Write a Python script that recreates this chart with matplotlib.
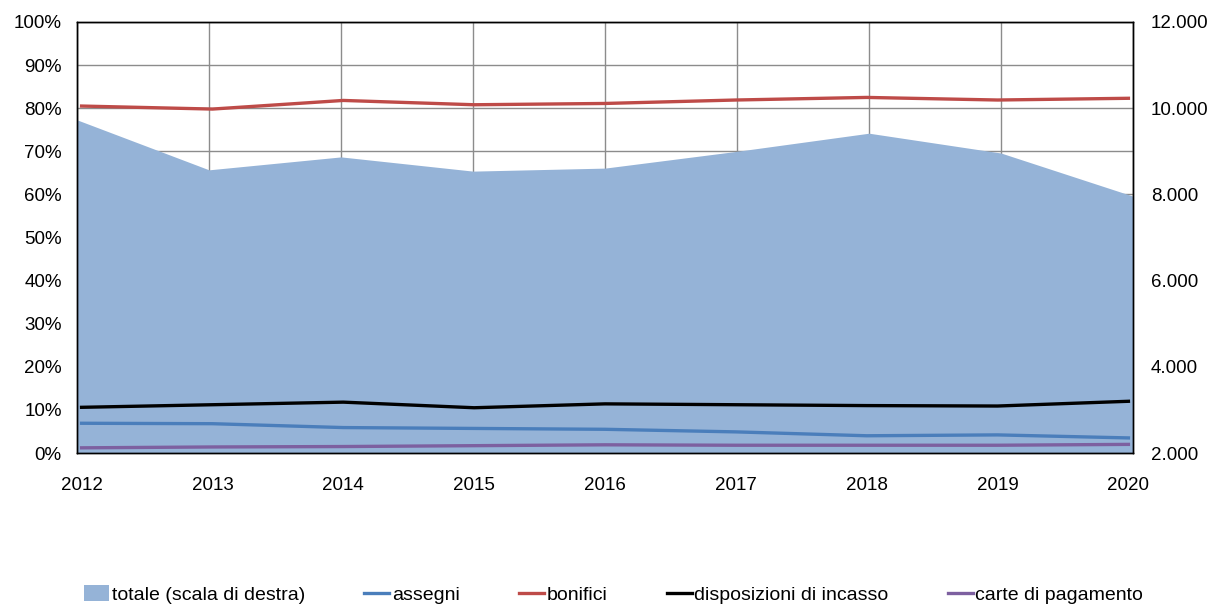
import matplotlib
matplotlib.use("Agg")
import matplotlib.pyplot as plt
from matplotlib.ticker import MultipleLocator, FuncFormatter, PercentFormatter
from matplotlib.patches import Patch
from matplotlib.lines import Line2D

plt.rcParams['font.family'] = ['Liberation Sans', 'DejaVu Sans']

anni = [2012, 2013, 2014, 2015, 2016, 2017, 2018, 2019, 2020]
# quote percentuali (scala di sinistra)
assegni = [6.9, 6.8, 5.9, 5.7, 5.5, 4.9, 4.0, 4.2, 3.5]
bonifici = [80.5, 79.8, 81.8, 80.8, 81.1, 81.9, 82.5, 81.9, 82.3]
disposizioni = [10.6, 11.2, 11.8, 10.5, 11.4, 11.2, 11.0, 10.9, 12.0]
carte = [1.2, 1.4, 1.5, 1.7, 1.9, 1.8, 1.8, 1.8, 2.0]
# totale (scala di destra)
totale = [9730, 8570, 8870, 8540, 8610, 9000, 9420, 8960, 7960]

c_area = '#95B3D7'
c_ass = '#4A7EBB'
c_bon = '#BE4B48'
c_disp = '#000000'
c_carte = '#7D60A0'
c_grid = '#8c8c8c'

fig = plt.figure(figsize=(12.08, 6.05), dpi=100)
rect = [77 / 1208, 1 - 453 / 605, 1056 / 1208, 431 / 605]

# asse dell'area (scala di destra), con la griglia sotto l'area
ax = fig.add_axes(rect)
ax.fill_between(anni, 2000, totale, color=c_area, lw=0, zorder=2)
ax.set_xlim(2012, 2020)
ax.set_ylim(2000, 12000)
ax.set_xticks(anni)
ax.tick_params(axis='x', length=0, labelbottom=False)
ax.yaxis.tick_right()
ax.yaxis.set_major_locator(MultipleLocator(2000))
ax.yaxis.set_minor_locator(MultipleLocator(1000))
ax.yaxis.set_major_formatter(FuncFormatter(lambda v, p: f"{int(v):,}".replace(",", ".")))
ax.tick_params(axis='y', which='both', length=0, labelsize=13.5, pad=13)
ax.set_axisbelow(True)
ax.grid(which='both', axis='y', color=c_grid, lw=1)
ax.grid(which='major', axis='x', color=c_grid, lw=1)

# asse delle linee (scala di sinistra)
ax2 = fig.add_axes(rect)
ax2.patch.set_visible(False)
lw = 2.4
ax2.plot(anni, assegni, color=c_ass, lw=lw)
ax2.plot(anni, bonifici, color=c_bon, lw=lw)
ax2.plot(anni, disposizioni, color=c_disp, lw=lw)
ax2.plot(anni, carte, color=c_carte, lw=lw)

d = 0.035
ax2.set_xlim(2012 - d, 2020 + d)
ax2.set_ylim(0, 100)
ax2.set_xticks(anni)
ax2.yaxis.set_major_locator(MultipleLocator(10))
ax2.yaxis.set_major_formatter(PercentFormatter(decimals=0))
ax2.tick_params(axis='y', length=0, labelsize=13.5, pad=11)
ax2.tick_params(axis='x', length=0, labelsize=13.5, pad=17)

for a in (ax, ax2):
    for s in a.spines.values():
        s.set_color('black')
        s.set_linewidth(1)

handles = [
    Patch(facecolor=c_area, edgecolor='none'),
    Line2D([], [], color=c_ass, lw=lw),
    Line2D([], [], color=c_bon, lw=lw),
    Line2D([], [], color=c_disp, lw=lw),
    Line2D([], [], color=c_carte, lw=lw),
]
labels = ['totale (scala di destra)', 'assegni', 'bonifici',
          'disposizioni di incasso', 'carte di pagamento']
fig.legend(handles, labels, loc='center', bbox_to_anchor=(0.508, 0.017),
           ncol=5, frameon=False, fontsize=14, handlelength=1.3,
           handleheight=0.9, handletextpad=0.12, columnspacing=3.05,
           borderaxespad=0)

fig.savefig('out.png', dpi=100)
